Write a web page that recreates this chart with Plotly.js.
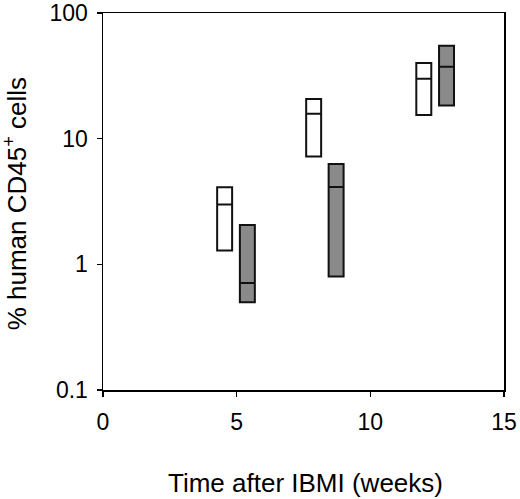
<!DOCTYPE html>
<html>
<head>
<meta charset="utf-8">
<script src="https://cdn.plot.ly/plotly-3.0.1.min.js"></script>
<style>html,body{margin:0;padding:0;background:#fff;}#chart{width:520px;height:499px;}</style>
</head>
<body>
<div id="chart"></div>
<script>
// White boxes
var whiteX = [4.55, 7.88, 12.0];
var whiteLow = [1.29, 7.2, 15.4];
var whiteMed = [3.0, 15.8, 30];
var whiteHigh = [4.1, 20.7, 40];
// Grey boxes
var greyX = [5.4, 8.72, 12.85];
var greyLow = [0.5, 0.8, 18.4];
var greyMed = [0.71, 4.13, 37.4];
var greyHigh = [2.06, 6.3, 55];

var yTickVals = [0.1, 1, 10, 100];
var yTickText = ['0.1', '1', '10', '100'];
var xTickVals = [0, 5, 10, 15];
var xTitle = 'Time after IBMI (weeks)';
var yTitle = '% human CD45<sup>+</sup> cells';

function boxTrace(x, lo, med, hi, fill) {
  return {
    type: 'box', x: x, q1: lo, median: med, q3: hi,
    lowerfence: lo, upperfence: hi,
    width: 0.56, whiskerwidth: 0, boxpoints: false,
    fillcolor: fill, line: {color: '#111', width: 2},
    hoverinfo: 'skip', showlegend: false
  };
}

var data = [
  boxTrace(whiteX, whiteLow, whiteMed, whiteHigh, '#ffffff'),
  boxTrace(greyX, greyLow, greyMed, greyHigh, '#8a8a8a')
];

var family = 'Liberation Sans, Arial, sans-serif';
var tickFont = {family: family, color: '#000', size: 23};
var titleFont = {family: family, color: '#000', size: 26};

var layout = {
  width: 520, height: 499,
  margin: {l: 103, r: 16, t: 13, b: 109},
  paper_bgcolor: '#fff', plot_bgcolor: '#fff',
  font: tickFont,
  showlegend: false,
  boxmode: 'overlay',
  xaxis: {
    range: [0, 15], tickvals: xTickVals, ticktext: xTickVals.map(String),
    showgrid: false, zeroline: false,
    showline: true, linecolor: '#000', linewidth: 1.5, mirror: true,
    ticks: 'outside', ticklen: 5, tickwidth: 1.5, tickcolor: '#000',
    ticklabelstandoff: 6,
    tickfont: tickFont
  },
  yaxis: {
    type: 'log', range: [-1, 2], tickvals: yTickVals, ticktext: yTickText,
    showgrid: false, zeroline: false,
    showline: true, linecolor: '#000', linewidth: 1.5, mirror: true,
    ticks: 'outside', ticklen: 5, tickwidth: 1.5, tickcolor: '#000',
    ticklabelstandoff: 4,
    tickfont: tickFont
  },
  annotations: [
    {text: xTitle, xref: 'paper', yref: 'paper', x: 0.504, y: -0.247,
     xanchor: 'center', yanchor: 'middle', showarrow: false, font: titleFont},
    {text: yTitle, xref: 'paper', yref: 'paper', x: -0.218, y: 0.494,
     xanchor: 'center', yanchor: 'middle', textangle: -90, showarrow: false, font: titleFont}
  ]
};

Plotly.newPlot('chart', data, layout, {staticPlot: true, displayModeBar: false});
</script>
</body>
</html>
